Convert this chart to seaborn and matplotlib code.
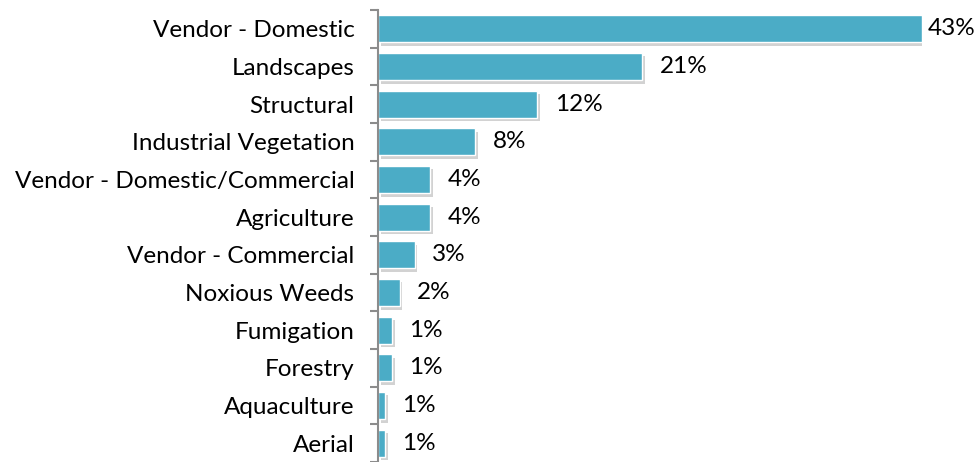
import matplotlib
matplotlib.use("Agg")
import matplotlib.pyplot as plt
import matplotlib.patheffects as pe
import seaborn as sns
import numpy as np
import pandas as pd

categories = ["Vendor - Domestic", "Landscapes", "Structural", "Industrial Vegetation",
              "Vendor - Domestic/Commercial", "Agriculture", "Vendor - Commercial",
              "Noxious Weeds", "Fumigation", "Forestry", "Aquaculture", "Aerial"]
values = [43.0, 20.9, 12.6, 7.7, 4.1, 4.1, 2.9, 1.7, 1.1, 1.1, 0.55, 0.55]
labels = ["43%", "21%", "12%", "8%", "4%", "4%", "3%", "2%", "1%", "1%", "1%", "1%"]

sns.set_theme(style="white")
plt.rcParams['font.family'] = ['Lato', 'DejaVu Sans']

df = pd.DataFrame({"cat": categories, "val": values})

fig = plt.figure(figsize=(9.79, 4.62), dpi=100)
ax = fig.add_axes([378/979, 0.0, (922-378)/979, 1 - 10/462])
sns.barplot(data=df, x="val", y="cat", orient="h", color="#4BACC6", saturation=1,
            width=0.72, ax=ax, edgecolor="white", linewidth=1)

for p in ax.patches:
    p.set_path_effects([pe.SimplePatchShadow(offset=(2, -2.5), shadow_rgbFace="#909090", alpha=0.4), pe.Normal()])

FS = 17.5
ax.set_xlim(0, 43)
ax.set_ylim(11.5, -0.5)
for sp in ["top", "right", "bottom"]:
    ax.spines[sp].set_visible(False)
ax.spines["left"].set_color("#8C8C8C")
ax.spines["left"].set_linewidth(1.5)
ax.set_xticks([])
ax.set_xlabel("")
ax.set_ylabel("")
ax.set_yticks(range(len(categories)))
ax.set_yticklabels(categories, fontsize=FS, color="black")
ax.tick_params(axis="y", which="major", length=0, pad=17)
ax.set_yticks(np.arange(-0.5, len(categories), 1), minor=True)
ax.tick_params(axis="y", which="minor", length=6, width=1.5, color="#8C8C8C", direction="out", left=True)

for i, (v, lab) in enumerate(zip(values, labels)):
    off = 4 if i == 0 else 12.5
    ax.annotate(lab, xy=(v, i), xytext=(off, 0), textcoords="offset points",
                va="center", ha="left", fontsize=FS, color="black", annotation_clip=False)

fig.savefig("out.png", dpi=100)
